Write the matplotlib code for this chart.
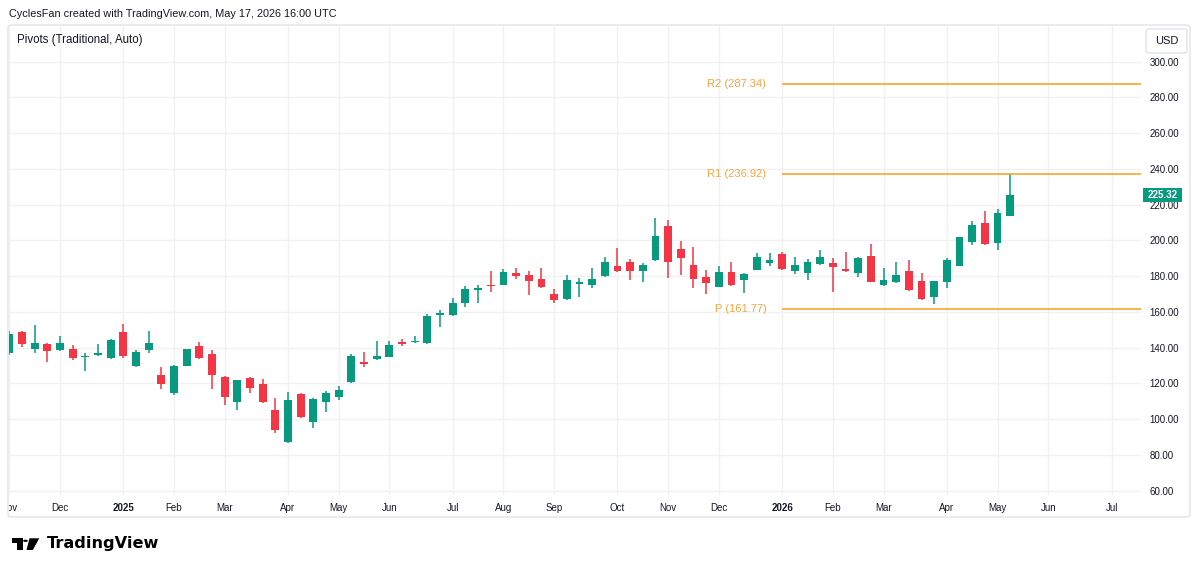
import matplotlib.pyplot as plt
import numpy as np
import pandas as pd
from matplotlib.patches import Rectangle, FancyBboxPatch, Circle, Polygon
from matplotlib.transforms import Bbox

plt.rcParams["font.family"] = ["Liberation Sans", "DejaVu Sans"]

# weekly OHLC, first bar = week of 2024-11-04
opens = [137.2, 148.6, 139.3, 142.2, 138.7, 139.3, 134.8, 136.1, 134.4, 148.6,
         129.9, 138.7, 124.9, 114.8, 129.8, 141.1, 136.4, 123.4, 109.5, 122.9,
         119.7, 105.2, 87.4, 114.1, 98.4, 109.5, 112.6, 121.0, 132.2, 133.8,
         135.0, 143.4, 143.2, 142.5, 158.3, 158.1, 165.0, 172.5, 174.6, 175.1,
         181.9, 180.7, 178.4, 169.9, 167.1, 175.5, 174.9, 180.1, 185.7, 187.9,
         182.9, 189.0, 208.2, 195.2, 186.2, 179.4, 174.1, 182.5, 177.7, 183.5,
         187.5, 192.3, 182.7, 181.6, 187.0, 187.4, 184.1, 182.0, 191.3, 174.9,
         176.6, 183.1, 177.3, 168.5, 176.9, 185.9, 199.3, 209.9, 198.8, 213.7]
highs = [149.4, 149.5, 152.7, 142.6, 146.5, 141.7, 136.9, 141.9, 144.8, 153.3,
         138.5, 149.2, 129.2, 130.6, 139.3, 143.2, 138.7, 124.0, 122.2, 123.6,
         122.3, 111.9, 115.0, 114.9, 111.8, 115.6, 118.7, 136.5, 137.6, 143.9,
         143.7, 144.7, 146.5, 158.8, 161.1, 168.0, 174.5, 175.1, 183.1, 184.0,
         184.6, 183.1, 184.4, 172.7, 180.5, 178.8, 184.6, 190.9, 195.6, 189.8,
         187.4, 212.4, 211.4, 199.9, 196.2, 183.5, 185.7, 187.9, 181.8, 192.8,
         193.1, 193.7, 190.9, 189.6, 194.6, 190.4, 193.5, 190.6, 197.9, 184.4,
         187.8, 188.9, 181.6, 177.5, 190.0, 202.2, 210.9, 216.5, 217.4, 236.9]
lows = [136.0, 140.6, 137.2, 131.8, 138.3, 133.1, 127.1, 135.5, 133.8, 134.3,
        129.4, 137.2, 116.7, 113.4, 129.5, 133.8, 116.9, 107.9, 105.2, 114.8,
        109.2, 92.5, 86.8, 100.5, 95.2, 104.2, 111.0, 120.4, 129.4, 133.0,
        134.6, 141.0, 142.8, 142.2, 151.8, 157.8, 162.6, 165.2, 171.3, 174.8,
        178.3, 169.5, 173.5, 164.9, 166.8, 168.5, 173.2, 179.8, 182.4, 177.9,
        176.9, 188.6, 179.2, 180.7, 173.4, 169.9, 173.8, 174.6, 170.8, 183.2,
        185.7, 183.7, 181.0, 177.9, 186.3, 171.3, 182.5, 179.7, 176.6, 174.6,
        176.0, 172.0, 166.8, 164.4, 173.6, 185.6, 197.3, 197.5, 194.7, 213.4]
closes = [147.7, 141.9, 142.5, 138.3, 142.8, 134.1, 135.2, 137.2, 144.5, 135.5,
          137.8, 142.8, 119.7, 129.8, 139.1, 134.1, 124.7, 112.6, 121.9, 117.3,
          109.5, 94.0, 110.7, 101.1, 111.3, 114.5, 116.3, 135.5, 131.1, 135.4,
          141.5, 141.9, 143.9, 157.9, 159.6, 164.9, 172.7, 173.6, 174.3, 182.5,
          180.2, 177.5, 173.8, 166.7, 177.9, 176.7, 178.4, 187.9, 182.7, 182.9,
          186.2, 202.5, 188.1, 190.0, 178.6, 176.4, 182.5, 174.9, 181.2, 190.6,
          189.0, 184.0, 186.2, 188.1, 190.9, 185.1, 182.8, 190.0, 176.9, 177.9,
          180.5, 172.3, 167.1, 177.3, 189.0, 201.9, 208.5, 197.8, 215.2, 225.32]

start_week = "2024-11-04"
n_slots = 90  # bars + empty space on the right

pivot_names = ["R2", "R1", "P"]
pivot_values = [287.34, 236.92, 161.77]
pivot_start = pd.Timestamp("2026-01-05")

price_ticks = np.arange(60, 301, 20)
last_price = closes[-1]

UP = "#089981"
DOWN = "#f23645"
PIVOT_LINE = "#f89c1c"
PIVOT_TEXT = "#f6a53f"
GRID = "#f1f1f1"
TEXT = "#131722"

W, H = 1200, 574


def fx(x):
    return x / W


def fy(y):
    return 1 - y / H


fig = plt.figure(figsize=(12, 5.74), dpi=100)
fig.patch.set_facecolor("white")

# plot area in pixels
left, right, top, bottom = 9.3, 1141, 26, 495
ax = fig.add_axes([fx(left), fy(bottom), fx(right) - fx(left), fy(top) - fy(bottom)])

weeks = pd.date_range(start_week, periods=n_slots, freq="W-MON")
x = np.arange(len(closes))
o = np.array(opens)
h = np.array(highs)
l = np.array(lows)
c = np.array(closes)
colors = [UP if cc >= oo else DOWN for oo, cc in zip(o, c)]

ax.vlines(x, l, h, colors=colors, linewidth=1.1, zorder=3)
body = np.maximum(np.abs(c - o), 0.5)
ax.bar(x, body, bottom=np.minimum(o, c), width=0.62, color=colors, zorder=4)

# month ticks at the first weekly bar of each month
tick_pos = [0]
tick_lab = [weeks[0].strftime("%b")]
for i in range(1, len(weeks)):
    if weeks[i].month != weeks[i - 1].month:
        tick_pos.append(i)
        tick_lab.append(str(weeks[i].year) if weeks[i].month == 1 else weeks[i].strftime("%b"))

ax.set_xlim(0, (right - left) / 12.67)
ax.set_ylim(300 - (bottom - 61.7) / 1.7875, 300 + (61.7 - top) / 1.7875)

ax.set_xticks(tick_pos)
ax.set_xticklabels(tick_lab)
clip = Bbox.from_extents(8.5, 0, W, H)
for t in ax.get_xticklabels():
    if t.get_text().isdigit():
        t.set_fontweight("bold")
    t.set_clip_box(clip)
    t.set_clip_on(True)
ax.set_yticks(price_ticks)
ax.set_yticklabels([f"{v:.2f}" for v in price_ticks])
ax.yaxis.tick_right()
ax.tick_params(axis="both", length=0, labelsize=7, labelcolor=TEXT)
ax.tick_params(axis="y", pad=6)
ax.tick_params(axis="x", pad=6)
ax.grid(True, color=GRID, linewidth=1, zorder=0)
ax.set_axisbelow(True)
for s in ax.spines.values():
    s.set_visible(False)

# pivot levels
p0 = (pivot_start - weeks[0]).days / 7
for name, val in zip(pivot_names, pivot_values):
    ax.hlines(val, p0 - 0.05, ax.get_xlim()[1], color=PIVOT_LINE, linewidth=1.1, zorder=5)
    ax.text(p0 - 1.25, val, f"{name} ({val:.2f})", color=PIVOT_TEXT, fontsize=8,
            ha="right", va="center", zorder=5)

# frame around chart
fig.patches.append(FancyBboxPatch((fx(8), fy(517)), fx(1190) - fx(8), fy(25) - fy(517),
                                  boxstyle="round,pad=0,rounding_size=0.004",
                                  transform=fig.transFigure, facecolor="none",
                                  edgecolor="#e0e3eb", linewidth=1))

# last price tag
fig.patches.append(Rectangle((fx(1143), fy(202)), fx(1182) - fx(1143), fy(188) - fy(202),
                             transform=fig.transFigure, facecolor=UP, edgecolor="none"))
fig.text(fx(1162.5), fy(195), f"{last_price:.2f}", color="white", fontsize=7,
         fontweight="bold", ha="center", va="center")

# currency box
fig.patches.append(FancyBboxPatch((fx(1146), fy(53)), fx(1187) - fx(1146), fy(29) - fy(53),
                                  boxstyle="round,pad=0,rounding_size=0.003",
                                  transform=fig.transFigure, facecolor="white",
                                  edgecolor="#e0e3eb", linewidth=1))
fig.text(fx(1166.5), fy(41), "USD", color=TEXT, fontsize=8, ha="center", va="center")

fig.text(fx(9), fy(14), "CyclesFan created with TradingView.com, May 17, 2026 16:00 UTC",
         color=TEXT, fontsize=7.8, ha="left", va="center")
fig.text(fx(17), fy(40), "Pivots (Traditional, Auto)", color=TEXT, fontsize=8.3,
         ha="left", va="center")

# TradingView logo
fig.patches.append(Rectangle((fx(11.7), fy(543.3)), fx(22.7) - fx(11.7), fy(538.3) - fy(543.3),
                             transform=fig.transFigure, facecolor="black"))
fig.patches.append(Rectangle((fx(16.8), fy(550)), fx(22.7) - fx(16.8), fy(538.3) - fy(550),
                             transform=fig.transFigure, facecolor="black"))
fig.patches.append(Circle((fx(25.5), fy(540.8)), 2.4 / W, transform=fig.transFigure,
                          facecolor="black"))
fig.patches.append(Polygon([(fx(29.5), fy(538.3)), (fx(39.3), fy(538.3)), (fx(32.8), fy(550)),
                            (fx(26.5), fy(550))], closed=True,
                           transform=fig.transFigure, facecolor="black"))
fig.text(fx(46.5), fy(548), "TradingView", color="black", fontsize=11.6,
         family="DejaVu Sans", fontweight="bold", ha="left", va="baseline")

fig.savefig("out.png", dpi=100, facecolor="white")
